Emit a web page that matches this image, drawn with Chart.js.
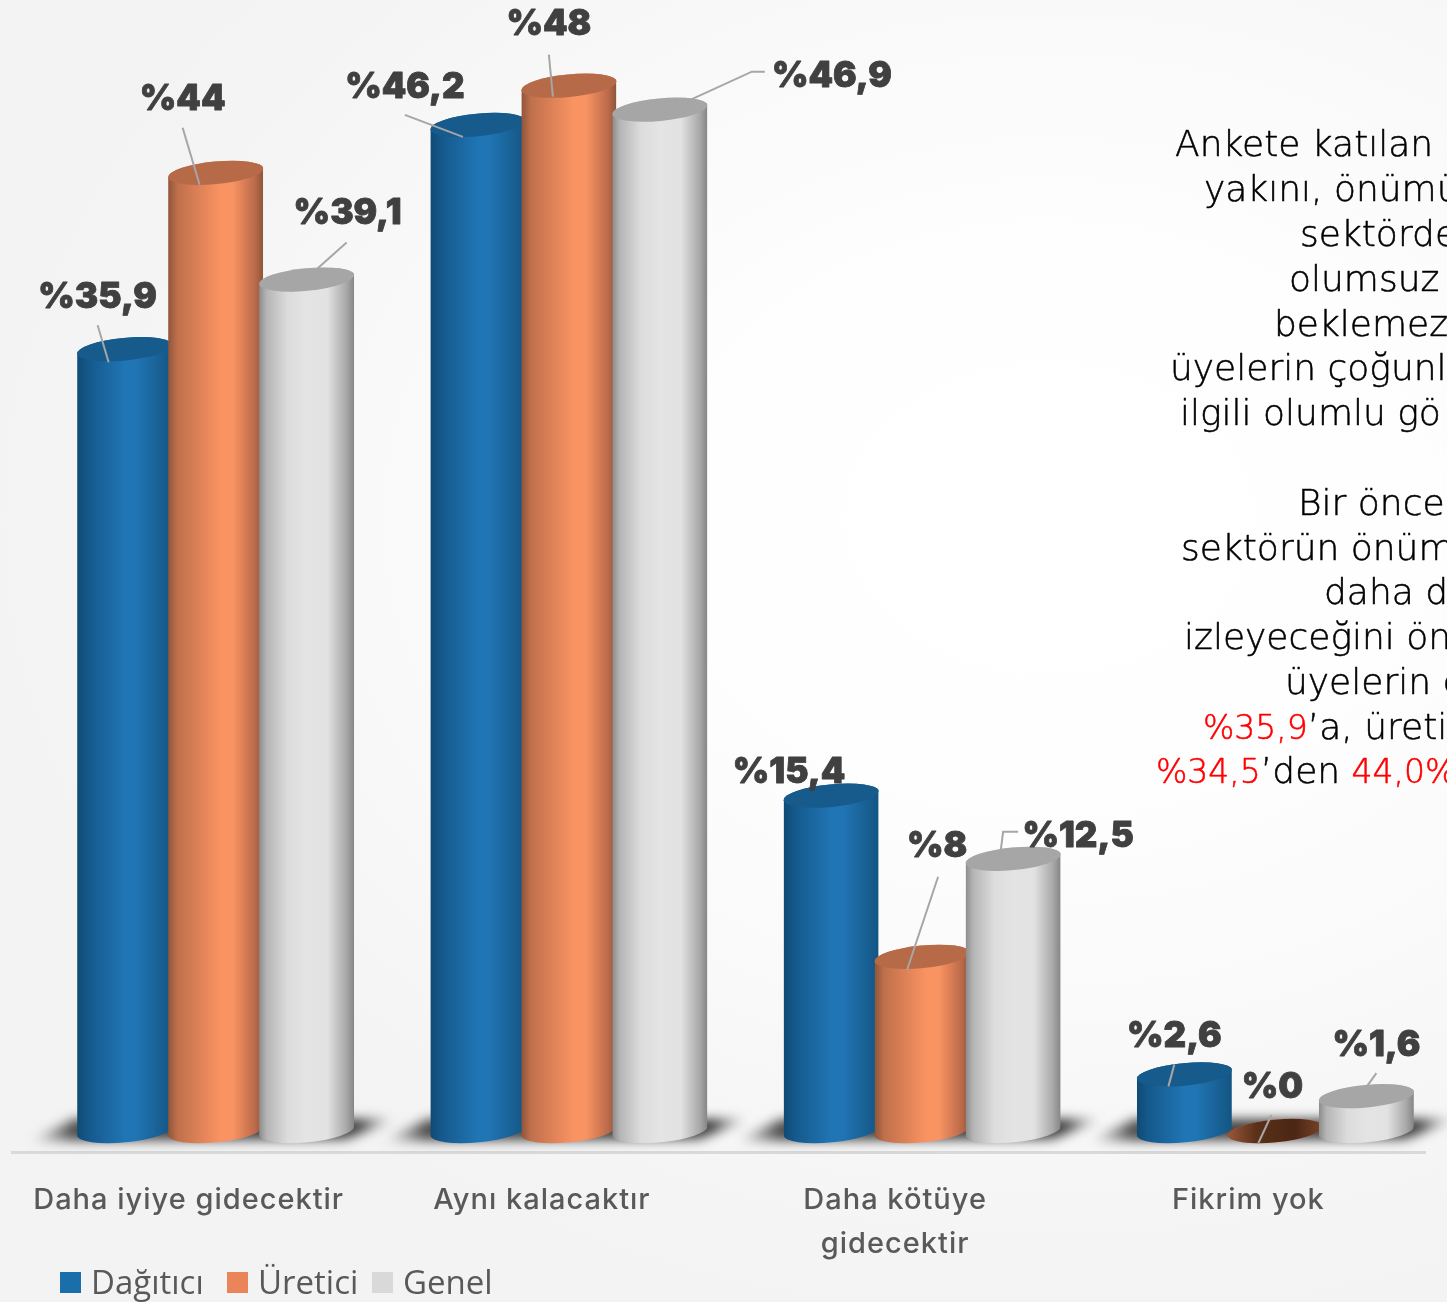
<!DOCTYPE html>
<html lang="tr">
<head>
<meta charset="utf-8">
<style>
html,body{margin:0;padding:0;width:1447px;height:1302px;overflow:hidden;background:radial-gradient(ellipse 1050px 800px at 1050px 520px,#ffffff 0%,#fefefe 35%,#f3f3f3 100%);}
canvas{display:block;}
</style>
<script src="https://cdn.jsdelivr.net/npm/chart.js@4"></script>
</head>
<body>
<canvas id="c" width="1447" height="1302"></canvas>
<script>
const categories = [["Daha iyiye gidecektir"], ["Aynı kalacaktır"], ["Daha kötüye", "gidecektir"], ["Fikrim yok"]];
const seriesNames = ["Dağıtıcı", "Üretici", "Genel"];
const dagitici = [35.9, 46.2, 15.4, 2.6];
const uretici = [44, 48, 8, 0];
const genel = [39.1, 46.9, 12.5, 1.6];

const labelOffsets = [
  [[-27,-52],[-73,-37],[-42,-23],[-10,-38]],
  [[-33,-73],[-20,-61],[15,-110],[-3,-44]],
  [[41,-66],[172,-33],[65,-22],[10,-51]]
];
const leaderPaths = [
  [[[-27,-24],[-16,13]], [[-73,-10],[-15,12]], [[-17,-16],[-20,-10]], [[-10,-10],[-16,12]]],
  [[[-33,-45],[-16,12]], [[-20,-31],[-16,11]], [[16,-80],[-15,13]], [[-4,-16],[-17,12]]],
  [[[40,-37],[-15,12]], [[105,-38],[92,-38],[-15,11]], [[5,-27],[-10,-27],[-15,12]], [[10,-23],[-15,12]]]
];
const bodyStops = [
  [[0,"#0f4a75"],[0.12,"#15598c"],[0.5,"#2075b4"],[0.62,"#2075b4"],[0.88,"#185f92"],[1,"#135583"]],
  [[0,"#8f553a"],[0.1,"#c0704c"],[0.55,"#fa9362"],[0.68,"#fa9362"],[0.92,"#b9694a"],[1,"#8e5439"]],
  [[0,"#8c8c8c"],[0.08,"#b5b5b5"],[0.3,"#dcdcdc"],[0.5,"#e4e4e4"],[0.72,"#e2e2e2"],[0.92,"#a8a8a8"],[1,"#858585"]]
];
const capColors = ["#175b8c", "#b66a47", "#a6a6a6"];
const legendColors = ["#1a6eaa", "#ea845a", "#d9d9d9"];
const noteLines = [
  {x:1175,y:144,parts:[["Ankete katılan ü",0]]},
  {x:1204,y:189,parts:[["yakını, önümü",0]]},
  {x:1300,y:234,parts:[["sektörde",0]]},
  {x:1289,y:279,parts:[["olumsuz",0]]},
  {x:1274,y:324,parts:[["beklemez",0]]},
  {x:1170,y:368,parts:[["üyelerin çoğunl",0]]},
  {x:1180,y:413,parts:[["ilgili olumlu gö",0]]},
  {x:1298,y:503,parts:[["Bir önce",0]]},
  {x:1181,y:548,parts:[["sektörün önüm",0]]},
  {x:1324,y:592,parts:[["daha d",0]]},
  {x:1184,y:637,parts:[["izleyeceğini ön",0]]},
  {x:1285,y:682,parts:[["üyelerin d",0]]},
  {x:1203,y:727,parts:[["%35,9",1],["’a, üretic",0]]},
  {x:1156,y:771,parts:[["%34,5",1],["’den ",0],["44,0%",1]]}
];
const SHIFT_X = 27, SHIFT_Y = -21, TILT = -5.5 * Math.PI / 180, RY = 11.3;

function bodyGradient(ctx, cx, w, stops) {
  const g = ctx.createLinearGradient(cx - w / 2, 0, cx + w / 2, 0);
  stops.forEach(s => g.addColorStop(s[0], s[1]));
  return g;
}
function drawGroundShadow(ctx, cx, base) {
  const L = cx - 186, R = cx + 180;
  const g = ctx.createLinearGradient(L, 0, R, 0);
  g.addColorStop(0, "rgba(60,60,60,0)");
  g.addColorStop(0.12, "rgba(55,55,55,.9)");
  g.addColorStop(0.9, "rgba(45,45,45,.95)");
  g.addColorStop(1, "rgba(60,60,60,0)");
  ctx.save();
  ctx.filter = "blur(6px)";
  ctx.fillStyle = g;
  ctx.beginPath();
  ctx.moveTo(L, base + 10);
  ctx.lineTo(L + 45, base - 12);
  ctx.lineTo(R, base - 12);
  ctx.lineTo(R - 50, base + 8);
  ctx.closePath();
  ctx.fill();
  ctx.restore();
}
const cylinderPlugin = {
  id: "cylinders",
  beforeDraw(chart) { chart.ctx.letterSpacing = "1px"; },
  beforeDatasetsDraw(chart) {
    const ctx = chart.ctx;
    ctx.save();
    ctx.translate(SHIFT_X, SHIFT_Y);
    const x = chart.scales.x, base = chart.scales.y.getPixelForValue(0);
    categories.forEach((_, i) => drawGroundShadow(ctx, x.getPixelForValue(i), base));
    for (let d = 0; d < 3; d++) {
      chart.getDatasetMeta(d).data.forEach(el => {
        const rx = (el.width / 2) / Math.cos(TILT);
        const y = el.y, b = el.base, flat = b - y < 1;
        ctx.save();
        ctx.beginPath();
        ctx.ellipse(el.x, b, rx, RY, TILT, 0, Math.PI, false);
        ctx.ellipse(el.x, y, rx, RY, TILT, Math.PI, 2 * Math.PI, false);
        ctx.closePath();
        ctx.clip();
        const oldOpts = el.options;
        el.options = Object.assign({}, oldOpts, {backgroundColor: bodyGradient(ctx, el.x, el.width, bodyStops[d])});
        el.y = y - 20; el.base = b + 20;
        el.draw(ctx);
        el.y = y; el.base = b; el.options = oldOpts;
        ctx.restore();
        ctx.beginPath();
        ctx.ellipse(el.x, y, rx, RY, TILT, 0, 2 * Math.PI);
        if (flat) {
          const f = ctx.createLinearGradient(el.x - rx, 0, el.x + rx, 0);
          f.addColorStop(0, "#9a5639");
          f.addColorStop(0.3, "#5a3119");
          f.addColorStop(0.7, "#4a2714");
          f.addColorStop(1, "#7a4429");
          ctx.fillStyle = f;
        } else {
          ctx.fillStyle = capColors[d];
        }
        ctx.fill();
      });
    }
    ctx.restore();
    return false;
  },
  afterDraw(chart) {
    const ctx = chart.ctx;
    ctx.save();
    ctx.letterSpacing = "0px";
    chart.data.datasets.forEach((ds, d) => {
      chart.getDatasetMeta(d).data.forEach((el, i) => {
        const ox = el.x + SHIFT_X, oy = el.y + SHIFT_Y;
        ctx.strokeStyle = "#a6a6a6";
        ctx.lineWidth = 2;
        ctx.beginPath();
        leaderPaths[d][i].forEach((p, k) => k ? ctx.lineTo(ox + p[0], oy + p[1]) : ctx.moveTo(ox + p[0], oy + p[1]));
        ctx.stroke();
      });
    });
    chart.data.datasets.forEach((ds, d) => {
      chart.getDatasetMeta(d).data.forEach((el, i) => {
        const ox = el.x + SHIFT_X, oy = el.y + SHIFT_Y;
        const t = "%" + String(ds.data[i]).replace(".", ",");
        ctx.font = "900 35px Inter";
        ctx.fillStyle = "#404040";
        ctx.strokeStyle = "#404040";
        ctx.lineWidth = 0.8;
        ctx.lineJoin = "round";
        ctx.textAlign = "center";
        ctx.textBaseline = "middle";
        ctx.strokeText(t, ox + labelOffsets[d][i][0], oy + labelOffsets[d][i][1]);
        ctx.fillText(t, ox + labelOffsets[d][i][0], oy + labelOffsets[d][i][1]);
      });
    });
    const boxes = [60, 227, 372];
    ctx.textAlign = "left";
    ctx.textBaseline = "middle";
    ctx.font = "33px 'Open Sans'";
    seriesNames.forEach((n, i) => {
      ctx.fillStyle = legendColors[i];
      ctx.fillRect(boxes[i], 1272, 21, 21);
      ctx.fillStyle = "#595959";
      ctx.fillText(n, boxes[i] + 31, 1285);
    });
    ctx.lineWidth = 0.5;
    noteLines.forEach(l => {
      let x = l.x;
      l.parts.forEach(p => {
        ctx.font = (p[1] ? "200 33px" : "200 36px") + " 'DejaVu Sans'";
        ctx.fillStyle = p[1] ? "#ff0000" : "#000000";
        ctx.strokeStyle = ctx.fillStyle;
        ctx.strokeText(p[0], x, l.y + 3);
        ctx.fillText(p[0], x, l.y + 3);
        x += ctx.measureText(p[0]).width;
      });
    });
    ctx.restore();
  }
};
new Chart(document.getElementById("c"), {
  type: "bar",
  data: {
    labels: categories,
    datasets: [
      {label: seriesNames[0], data: dagitici, backgroundColor: legendColors[0], clip: false},
      {label: seriesNames[1], data: uretici, backgroundColor: legendColors[1], clip: false},
      {label: seriesNames[2], data: genel, backgroundColor: legendColors[2], clip: false}
    ]
  },
  options: {
    responsive: false,
    animation: false,
    categoryPercentage: 0.7728,
    barPercentage: 1.044,
    layout: {padding: {left: 12, right: 22, top: 0, bottom: 0}},
    plugins: {legend: {display: false}, tooltip: {enabled: false}},
    scales: {
      x: {
        afterFit: s => { s.height = 150; },
        grid: {display: false, drawTicks: false},
        border: {display: true, color: "#d9d9d9", width: 3},
        ticks: {padding: 27, maxRotation: 0, minRotation: 0, autoSkip: false, color: "#595959",
                font: {family: "Inter", size: 29, weight: "500", lineHeight: 1.5}}
      },
      y: {display: false, min: 0, max: 52.9, grid: {display: false}}
    }
  },
  plugins: [cylinderPlugin]
});
</script>
</body>
</html>
